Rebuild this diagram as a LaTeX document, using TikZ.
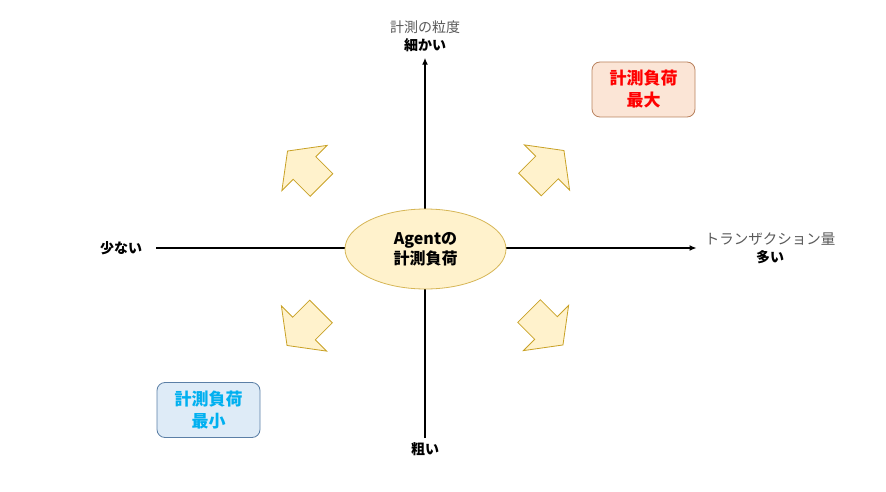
\documentclass[tikz,border=0pt]{standalone}
\usepackage{fontspec}
\setmainfont{Noto Sans CJK JP}
\usepackage{xcolor}
\usepackage{tikz}
\usetikzlibrary{arrows.meta,shapes.geometric}

\definecolor{loadfill}{HTML}{FFF2CC}
\definecolor{loadline}{HTML}{D6B656}
\definecolor{arrowline}{HTML}{C9A227}
\definecolor{maxfill}{HTML}{FBE5D6}
\definecolor{maxline}{HTML}{B9825E}
\definecolor{minfill}{HTML}{DEEBF7}
\definecolor{minline}{HTML}{5B7FA6}
\definecolor{mintext}{HTML}{00B0F0}
\definecolor{axistext}{HTML}{595959}

\tikzset{
  axislabel/.style={align=center,inner sep=1pt,font=\fontsize{14}{18}\selectfont},
  axisline/.style={line width=1.6pt,-{Latex[length=7pt,width=6pt]}},
  quadarrow/.style={fill=loadfill,draw=arrowline,line width=0.8pt,line join=miter},
  loadbox/.style={draw,rounded corners=8pt,minimum width=103pt,minimum height=55pt,
    align=center,line width=0.8pt,font=\fontsize{17}{22}\selectfont\bfseries},
}

\begin{document}
\begin{tikzpicture}[x=1pt,y=-1pt]
  \useasboundingbox (0,0) rectangle (886,492);
  % axis labels
  \node[axislabel] (fine) at (425,36) {\textcolor{axistext}{計測の粒度}\\\textbf{細かい}};
  \node[axislabel] (coarse) at (425,449) {\textbf{粗い}};
  \node[axislabel] (few) at (121,248) {\textbf{少ない}};
  \node[axislabel] (many) at (770,248) {\textcolor{axistext}{\fontsize{14.5}{18}\selectfont トランザクション量}\\\textbf{多い}};
  % axes
  \draw[axisline,shorten <=3pt,shorten >=5pt] (coarse) -- (fine);
  \draw[axisline,shorten <=13pt,shorten >=7pt] (few) -- (many);
  % quadrant arrows
  \foreach \cx/\cy/\ang in {304.5/168/135,547/167.5/45,304/328.5/225,546/328/315}{
    \draw[quadarrow,shift={(\cx,\cy)},rotate=\ang]
      (-24,-16) -- (0,-16) -- (0,-32) -- (24,0) -- (0,32) -- (0,16) -- (-24,16) -- cycle;
  }
  \node[ellipse,fill=loadfill,draw=loadline,line width=0.8pt,minimum width=161pt,minimum height=80pt,
    align=center,font=\fontsize{16}{20}\selectfont\bfseries] (agent) at (425.5,249) {Agentの\\計測負荷};
  % corner boxes
  \node[loadbox,fill=maxfill,draw=maxline,text=red] (maxload) at (643.5,89.5) {計測負荷\\最大};
  \node[loadbox,fill=minfill,draw=minline,text=mintext] (minload) at (208.5,410) {計測負荷\\最小};
\end{tikzpicture}
\end{document}
